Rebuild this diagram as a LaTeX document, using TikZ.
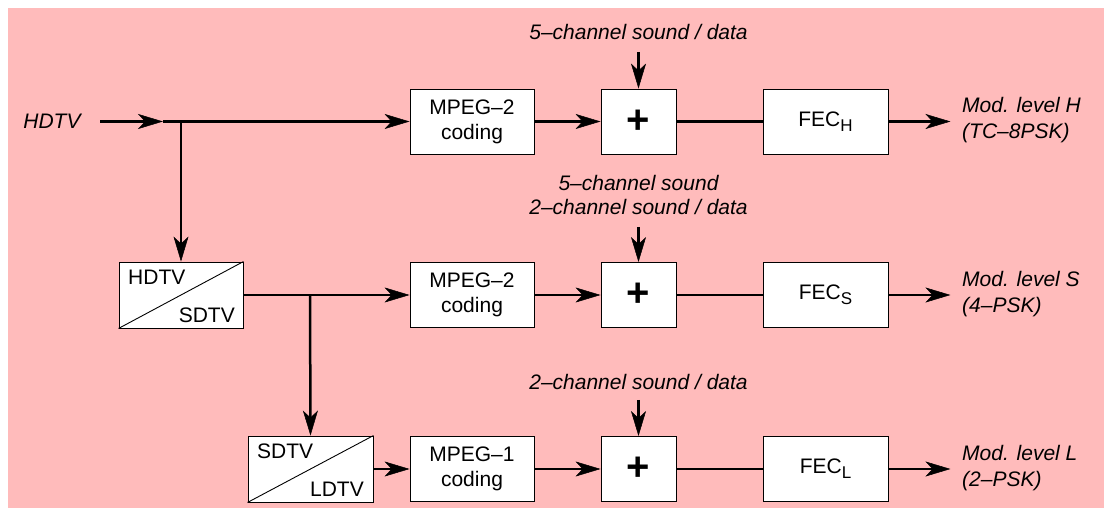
\documentclass[tikz,border=0pt]{standalone}
\usepackage{fontspec}
\setmainfont{Liberation Sans}
\usetikzlibrary{arrows.meta,calc}
\definecolor{bgpink}{RGB}{255,187,187}
\begin{document}
\begin{tikzpicture}[x=1pt,y=-1pt,
  every node/.style={font=\fontsize{21}{25}\selectfont, inner sep=0pt},
  blk/.style={draw=black, fill=white, line width=0.9pt, minimum width=124pt, minimum height=65pt, align=center},
  plusbox/.style={blk, minimum width=75pt, font=\fontsize{40}{40}\selectfont\bfseries},
  convbox/.style={draw=black, fill=white, line width=0.9pt, minimum width=124pt, minimum height=66pt},
  lbl/.style={font=\fontsize{21}{24}\selectfont\itshape, align=center},
  outlbl/.style={font=\fontsize{21}{26}\selectfont\itshape, align=left, anchor=west},
  sig/.style={line width=2.5pt},
  arr/.style={sig, -{Stealth[length=25pt,width=15pt,inset=7pt,line width=0.5pt]}},
]
\useasboundingbox (0,0) rectangle (1109,518);
\fill[bgpink] (8,8) rectangle (1104,508);

% row 1
\node[font=\fontsize{21}{25}\selectfont\itshape] (hin) at (52,121.5) {HDTV};
\coordinate (s1) at (100,121.5);
\coordinate (m1) at (163,121.5);
\coordinate (j1) at (181,121.5);
\node[blk] (mpeg1) at (472,121.5) {MPEG–2\\coding};
\node[plusbox] (plus1) at (638.5,121.5) {+};
\node[blk, minimum width=125pt] (fec1) at (825.5,121.5) {FEC\raisebox{-5pt}{\fontsize{17}{17}\selectfont H}};
\node[outlbl] (out1) at (962,120) {Mod. level H\\(TC–8PSK)};
\node[lbl] (lab1) at (638.5,32) {5–channel sound / data};
\coordinate (t1) at (638.5,52);

% row 2
\node[convbox] (conv1) at (181,295) {};
\draw[line width=0.9pt] (conv1.south west) -- (conv1.north east);
\node[anchor=west] (conv1a) at (128,277) {HDTV};
\node[anchor=east] (conv1b) at (235,315) {SDTV};
\coordinate (j2) at (310,295);
\node[blk] (mpeg2) at (472,295) {MPEG–2\\coding};
\node[plusbox] (plus2) at (638.5,295) {+};
\node[blk, minimum width=125pt] (fec2) at (825.5,295) {FEC\raisebox{-5pt}{\fontsize{17}{17}\selectfont S}};
\node[outlbl] (out2) at (962,294) {Mod. level S\\(4–PSK)};
\node[lbl] (lab2) at (638.5,195) {5–channel sound\\2–channel sound / data};
\coordinate (t2) at (638.5,227);

% row 3
\node[convbox, minimum width=125pt] (conv2) at (310.5,469) {};
\draw[line width=0.9pt] (conv2.south west) -- (conv2.north east);
\node[anchor=west] (conv2a) at (257,451) {SDTV};
\node[anchor=east] (conv2b) at (364,489) {LDTV};
\node[blk] (mpeg3) at (472,469) {MPEG–1\\coding};
\node[plusbox] (plus3) at (638.5,469) {+};
\node[blk, minimum width=125pt] (fec3) at (825.5,469) {FEC\raisebox{-5pt}{\fontsize{17}{17}\selectfont L}};
\node[outlbl] (out3) at (962,468) {Mod. level L\\(2–PSK)};
\node[lbl] (lab3) at (638.5,382) {2–channel sound / data};
\coordinate (t3) at (638.5,400);

% connectors
\draw[arr] (s1) -- (m1);
\draw[arr] (m1) -- (mpeg1.west);
\draw[arr] (j1) -- (conv1.north);
\draw[arr] (mpeg1.east) -- (plus1.west);
\draw[sig] (plus1.east) -- (fec1.west);
\draw[arr] (fec1.east) -- ++(62,0) coordinate (e1);
\draw[arr] (t1) -- (plus1.north);

\draw[arr] (conv1.east) -- (mpeg2.west);
\draw[arr] (j2) -- (conv2.north);
\draw[arr] (mpeg2.east) -- (plus2.west);
\draw[sig] (plus2.east) -- (fec2.west);
\draw[arr] (fec2.east) -- ++(62,0) coordinate (e2);
\draw[arr] (t2) -- (plus2.north);

\draw[arr] (conv2.east) -- (mpeg3.west);
\draw[arr] (mpeg3.east) -- (plus3.west);
\draw[sig] (plus3.east) -- (fec3.west);
\draw[arr] (fec3.east) -- ++(62,0) coordinate (e3);
\draw[arr] (t3) -- (plus3.north);
\end{tikzpicture}
\end{document}
